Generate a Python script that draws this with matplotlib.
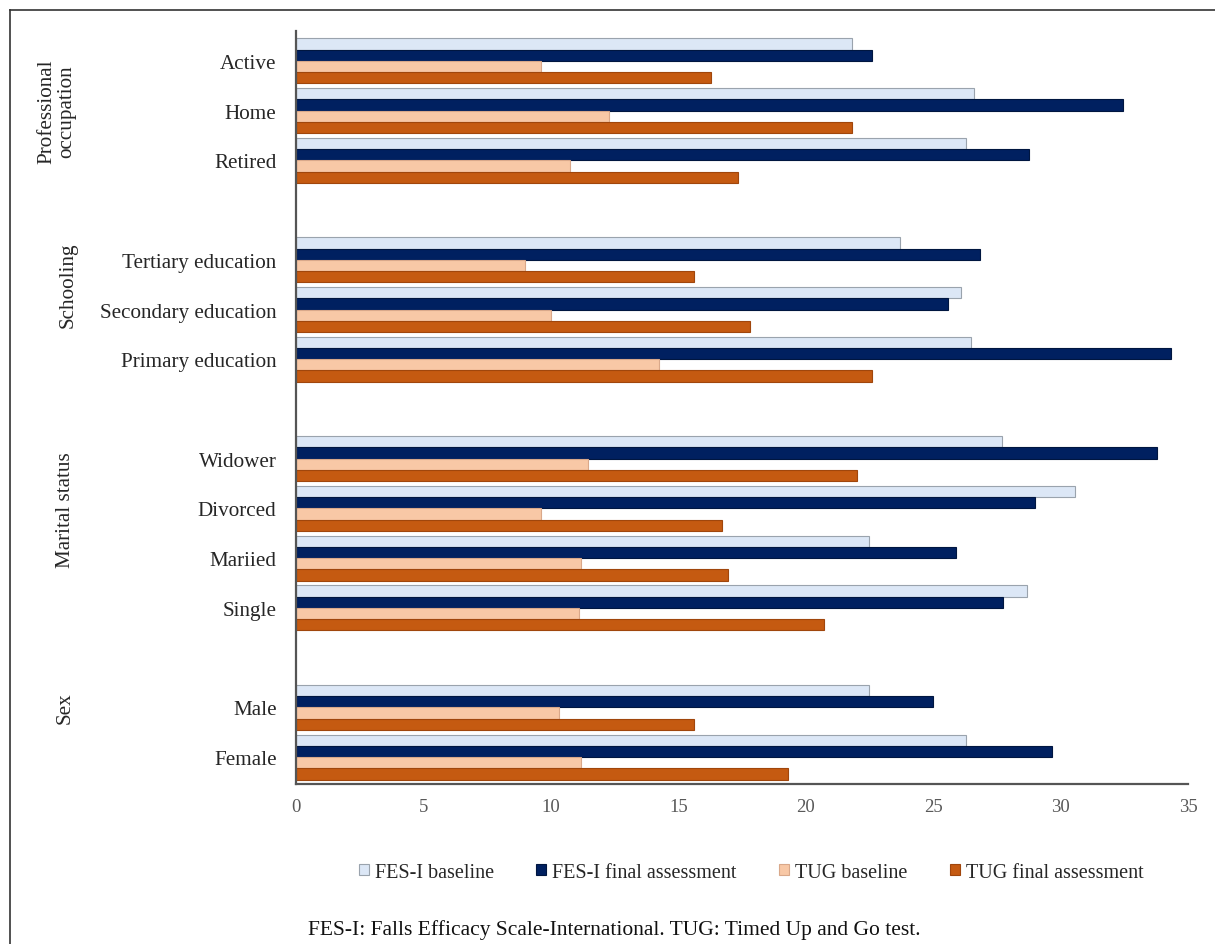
import matplotlib
matplotlib.use("Agg")
import matplotlib.pyplot as plt
from matplotlib.lines import Line2D
import numpy as np

plt.rcParams['font.family'] = ['Liberation Serif', 'DejaVu Serif']

# ---- data (top to bottom) ----
categories = ["Active", "Home", "Retired",
              "Tertiary education", "Secondary education", "Primary education",
              "Widower", "Divorced", "Mariied", "Single",
              "Male", "Female"]
fes_baseline = [21.8, 26.6, 26.3, 23.7, 26.1, 26.5, 27.7, 30.55, 22.5, 28.7, 22.5, 26.3]
fes_final    = [22.6, 32.45, 28.75, 26.85, 25.6, 34.35, 33.8, 29.0, 25.9, 27.75, 25.0, 29.65]
tug_baseline = [9.6, 12.3, 10.75, 9.0, 10.0, 14.25, 11.45, 9.6, 11.2, 11.1, 10.3, 11.2]
tug_final    = [16.3, 21.8, 17.35, 15.6, 17.8, 22.6, 22.0, 16.7, 16.95, 20.7, 15.6, 19.3]
group_names = ["Professional\noccupation", "Schooling", "Marital status", "Sex"]
group_sizes = [3, 3, 4, 2]
series_names = ["FES-I baseline", "FES-I final assessment", "TUG baseline", "TUG final assessment"]
x_ticks = [0, 5, 10, 15, 20, 25, 30, 35]
caption = "FES-I: Falls Efficacy Scale-International. TUG: Timed Up and Go test."

# ---- positions: one empty slot between groups ----
pos = []
slot = 0
for g in group_sizes:
    for _ in range(g):
        pos.append(slot)
        slot += 1
    slot += 1
pos = np.array(pos, dtype=float)

W, H = 1215, 945
fig = plt.figure(figsize=(W / 100, H / 100), dpi=100)
ax = fig.add_axes([296 / W, 1 - 785 / H, (1188 - 296) / W, (785 - 32) / H])

h = 0.226
colors = ["#DCE7F6", "#002060", "#F8C8A6", "#C55A11"]
edges = ["#9AA3AD", "#001640", "#D9A88A", "#A0460C"]
series = [fes_baseline, fes_final, tug_baseline, tug_final]
offsets = [-1.5 * h, -0.5 * h, 0.5 * h, 1.5 * h]
for vals, c, e, off, name in zip(series, colors, edges, offsets, series_names):
    ax.barh(pos + off, vals, height=h, color=c, edgecolor=e, linewidth=0.8, label=name)

ax.set_xlim(0, 35)
ax.set_ylim(pos[-1] + 0.54, -0.6)
ax.set_xticks(x_ticks)
ax.set_xticklabels([str(t) for t in x_ticks], color="#595959", fontsize=13.5)
ax.set_yticks(pos)
ax.set_yticklabels(categories, fontsize=15.2, color="#262626")
ax.tick_params(axis='y', length=0, pad=14)
ax.tick_params(axis='x', length=0, pad=10)
for s in ["top", "right"]:
    ax.spines[s].set_visible(False)
for s in ["left", "bottom"]:
    ax.spines[s].set_color("#555555")
    ax.spines[s].set_linewidth(1.6)

# group labels
group_px = [(57, 112), (68, 285), (65, 510), (65, 708)]
for name, (px, py) in zip(group_names, group_px):
    fig.text(px / W, 1 - py / H, name, rotation=90, ha="center", va="center",
             fontsize=15.2, color="#262626", multialignment="center", linespacing=1.05)

# legend
fig.legend(loc="center", bbox_to_anchor=(751 / W, 1 - 873 / H), ncol=4, frameon=False,
           fontsize=14.5, handlelength=0.5, handleheight=0.5, handletextpad=0.3,
           columnspacing=2.1, labelcolor="#262626")

# caption
fig.text(614 / W, 1 - 930 / H, caption, ha="center", va="center", fontsize=15.5, color="#111111")

# outer frame (left and top edges)
fig.add_artist(Line2D([10 / W, 10 / W], [0, 1 - 11 / H], color="#333333", linewidth=1.2,
                      transform=fig.transFigure))
fig.add_artist(Line2D([10 / W, 1.0], [1 - 11 / H, 1 - 11 / H], color="#333333", linewidth=1.2,
                      transform=fig.transFigure))

fig.savefig("out.png", dpi=100, facecolor="white")
